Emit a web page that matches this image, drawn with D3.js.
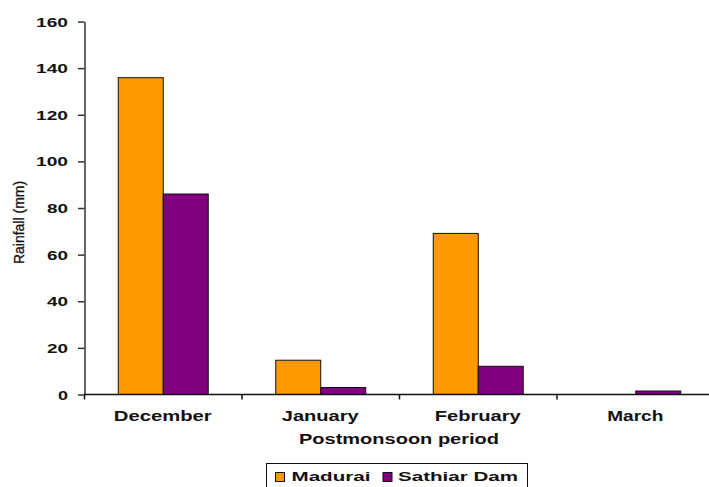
<!DOCTYPE html>
<html>
<head>
<meta charset="utf-8">
<script src="https://cdn.jsdelivr.net/npm/d3@7"></script>
<style>
  html, body { margin: 0; padding: 0; background: #fff; }
  svg { display: block; font-family: "Liberation Sans", Arial, sans-serif; }
</style>
</head>
<body>
<svg id="chart" width="709" height="487"></svg>
<script>
// Postmonsoon rainfall (mm) at two stations
const months = ["December", "January", "February", "March"];
const seriesNames = ["Madurai", "Sathiar Dam"];
const madurai = [135.9, 14.7, 69.1, 0];
const sathiarDam = [86.0, 3.0, 12.1, 1.5];
const yTicks = [0, 20, 40, 60, 80, 100, 120, 140, 160];
const colors = ["#FF9900", "#800080"];

const values = [madurai, sathiarDam];
const rows = months.map((m, i) => ({
  month: m,
  bars: seriesNames.map((s, j) => ({ series: s, value: values[j][i], color: colors[j] }))
}));

const svg = d3.select("#chart");
const plotLeft = 84, plotRight = 714, plotTop = 21, plotBottom = 394;

const x = d3.scaleBand().domain(months).range([plotLeft, plotRight])
  .paddingInner(0.4286).paddingOuter(0.2143);
const xs = d3.scaleBand().domain(seriesNames).range([0, x.bandwidth()]);
const y = d3.scaleLinear().domain([0, 160]).range([plotBottom, plotTop]);

// stretch text horizontally to the wide bold lettering
function stretch(sel, widthOf) {
  sel.each(function () {
    const t = this.textContent;
    d3.select(this).attr("textLength", widthOf(t)).attr("lengthAdjust", "spacingAndGlyphs");
  });
}

// bars
const groups = svg.append("g").selectAll("g").data(rows).join("g")
  .attr("transform", d => `translate(${x(d.month)},0)`);
groups.selectAll("rect").data(d => d.bars.filter(b => b.value > 0)).join("rect")
  .attr("x", d => xs(d.series) + 0.5)
  .attr("y", d => y(d.value) + 0.5)
  .attr("width", xs.bandwidth())
  .attr("height", d => y(0) - y(d.value))
  .attr("fill", d => d.color)
  .attr("stroke", "#111")
  .attr("stroke-width", 1);

// y axis
const yAxis = svg.append("g").attr("transform", `translate(${plotLeft + 0.5},0.5)`)
  .call(d3.axisLeft(y).tickValues(yTicks).tickSize(6.5).tickPadding(10).tickSizeOuter(0));
yAxis.select(".domain").attr("stroke", "#333").attr("stroke-width", 1.5);
yAxis.selectAll(".tick line").attr("stroke", "#333").attr("stroke-width", 1.5);
yAxis.selectAll(".tick text")
  .attr("font-family", "'Liberation Sans', Arial, sans-serif")
  .attr("font-size", 12.5).attr("font-weight", "bold").attr("fill", "#111")
  .attr("dy", "0.36em")
  .call(stretch, t => t.length * 11 - 1);

// x axis
const xAxis = svg.append("g").attr("transform", `translate(0,${plotBottom + 0.5})`);
xAxis.append("line").attr("x1", plotLeft).attr("x2", plotRight).attr("stroke", "#111").attr("stroke-width", 1.5);
const boundaries = d3.range(months.length + 1).map(i => plotLeft + i * x.step());
xAxis.selectAll(".bt").data(boundaries).join("line").attr("class", "bt")
  .attr("x1", d => d + 0.5).attr("x2", d => d + 0.5).attr("y1", 0).attr("y2", 5)
  .attr("stroke", "#111").attr("stroke-width", 1.5);

const labelWidths = { December: 98, January: 77, February: 86, March: 56 };
xAxis.selectAll(".ml").data(months).join("text").attr("class", "ml")
  .attr("x", d => x(d) + x.bandwidth() / 2)
  .attr("y", 26)
  .attr("text-anchor", "middle")
  .attr("font-size", 14).attr("font-weight", "bold").attr("fill", "#111")
  .text(d => d)
  .call(stretch, t => labelWidths[t]);

// axis titles
svg.append("text")
  .attr("x", (plotLeft + plotRight) / 2).attr("y", 444)
  .attr("text-anchor", "middle")
  .attr("font-size", 14).attr("font-weight", "bold").attr("fill", "#111")
  .text("Postmonsoon period")
  .call(stretch, () => 200);

svg.append("text")
  .attr("transform", "translate(24,222.5) rotate(-90)")
  .attr("text-anchor", "middle")
  .attr("font-size", 14).attr("fill", "#111")
  .attr("stroke", "#111").attr("stroke-width", 0.3)
  .text("Rainfall (mm)");

// legend
const legend = svg.append("g");
legend.append("rect")
  .attr("x", 266.5).attr("y", 463.5).attr("width", 261).attr("height", 30)
  .attr("fill", "#fff").attr("stroke", "#111").attr("stroke-width", 1);
const legendItems = [
  { name: seriesNames[0], color: colors[0], sx: 275, tx: 291.5, w: 79 },
  { name: seriesNames[1], color: colors[1], sx: 382.5, tx: 398, w: 120 }
];
legendItems.forEach(it => {
  legend.append("rect").attr("x", it.sx + 0.5).attr("y", 472.5).attr("width", 9).attr("height", 9)
    .attr("fill", it.color).attr("stroke", "#111").attr("stroke-width", 1);
  legend.append("text").attr("x", it.tx).attr("y", 481)
    .attr("font-size", 13).attr("font-weight", "bold").attr("fill", "#111")
    .attr("textLength", it.w).attr("lengthAdjust", "spacingAndGlyphs")
    .text(it.name);
});
</script>
</body>
</html>
